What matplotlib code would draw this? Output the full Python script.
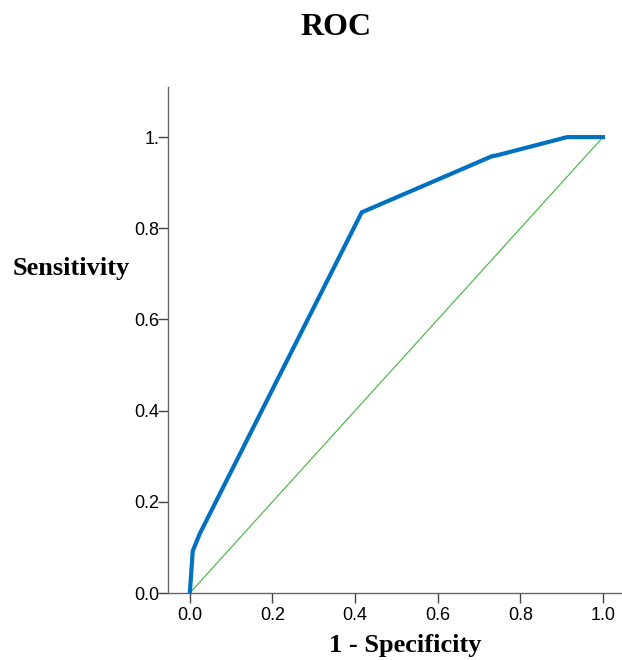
import matplotlib
matplotlib.use("Agg")
import matplotlib.pyplot as plt

# ROC curve points
fpr = [0.0, 0.007, 0.024, 0.416, 0.731, 0.743, 0.913, 1.0]
tpr = [0.0, 0.092, 0.130, 0.835, 0.958, 0.960, 1.0, 1.0]
ref_x = [0.0, 1.0]
ref_y = [0.0, 1.0]

xticks = [0.0, 0.2, 0.4, 0.6, 0.8, 1.0]
xtick_labels = ["0.0", "0.2", "0.4", "0.6", "0.8", "1.0"]
yticks = [0.0, 0.2, 0.4, 0.6, 0.8, 1.0]
ytick_labels = ["0.0", "0.2", "0.4", "0.6", "0.8", "1."]

fig = plt.figure(figsize=(6.22, 6.6), dpi=100)
ax = fig.add_axes([0.270, 0.1015, 0.730, 0.7667])

ax.plot(fpr, tpr, color="#0070C0", linewidth=3.0, solid_joinstyle="miter", zorder=3)
ax.plot(ref_x, ref_y, color="#3CB43C", linewidth=0.8, zorder=2)

ax.set_xlim(-0.053, 1.046)
ax.set_ylim(0.0, 1.11)

ax.set_xticks(xticks)
ax.set_xticklabels(xtick_labels)
ax.set_yticks(yticks)
ax.set_yticklabels(ytick_labels)

for side in ["top", "right"]:
    ax.spines[side].set_visible(False)
for side in ["left", "bottom"]:
    ax.spines[side].set_color("#666666")
    ax.spines[side].set_linewidth(1.0)

ax.tick_params(axis="both", direction="out", length=7.2, width=1.0, color="#444444",
               labelsize=13, labelcolor="black")
ax.tick_params(axis="y", pad=-1)
ax.tick_params(axis="x", pad=3)
for lab in ax.get_xticklabels() + ax.get_yticklabels():
    lab.set_family("Liberation Sans")

ax.set_xlabel("1 - Specificity", family="Liberation Serif", fontweight="bold", fontsize=19,
              va="center")
ax.xaxis.set_label_coords(0.522, -0.103)
ax.set_ylabel("Sensitivity", family="Liberation Serif", fontweight="bold", fontsize=19,
              rotation=0, ha="right", va="center")
ax.yaxis.set_label_coords(-0.084, 0.642)

fig.text(0.54, 0.958, "ROC", family="Liberation Serif", fontweight="bold", fontsize=23,
         ha="center", va="center")

fig.savefig("out.png", dpi=100)
